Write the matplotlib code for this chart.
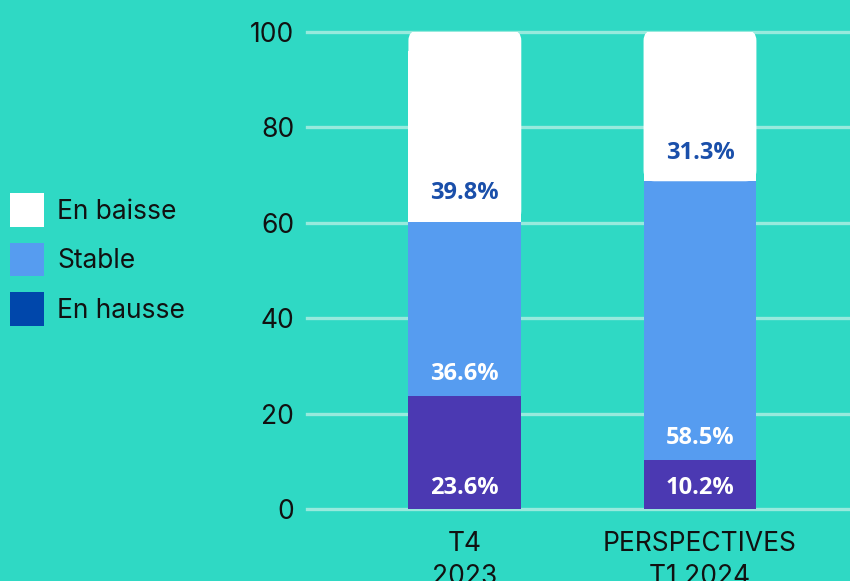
import matplotlib
matplotlib.use("Agg")
import matplotlib.pyplot as plt
from matplotlib.patches import Patch, FancyBboxPatch

# Data
categories = ["T4\n2023", "PERSPECTIVES\nT1 2024"]
en_hausse = [23.6, 10.2]
stable = [36.6, 58.5]
en_baisse = [39.8, 31.3]
yticks = [0, 20, 40, 60, 80, 100]

# Colours
bg = "#2FD9C4"
grid_col = "#97EADD"
c_hausse = "#4B39B2"
c_stable = "#569CF0"
c_baisse = "#FFFFFF"
c_legend_hausse = "#0047AB"
c_dark_label = "#1A4FAA"

plt.rcParams["font.family"] = ["Inter", "DejaVu Sans"]

fig = plt.figure(figsize=(8.5, 5.81), dpi=100, facecolor=bg)
ax = fig.add_axes([0.361, 0.124, 0.639, 0.821])
ax.set_facecolor(bg)

x = list(range(len(categories)))
width = 0.48

ax.bar(x, en_hausse, width, color=c_hausse, zorder=3)
bottom2 = [a for a in en_hausse]
ax.bar(x, stable, width, bottom=bottom2, color=c_stable, zorder=3)
bottom3 = [a + b for a, b in zip(en_hausse, stable)]

# top segment with rounded top corners
aspect = (100 / 477) / (1 / 235)
for xi, b, h in zip(x, bottom3, en_baisse):
    box = FancyBboxPatch((xi - width / 2, b), width, h + 0.4,
                         boxstyle="round,pad=0,rounding_size=0.045",
                         mutation_aspect=aspect,
                         facecolor=c_baisse, edgecolor="none", zorder=3)
    ax.add_patch(box)
    ax.bar(xi, h - 4, width, bottom=b, color=c_baisse, zorder=3)

# value labels
lab_kw = dict(ha="center", va="center", fontsize=17, fontweight="bold",
              family=["Open Sans", "DejaVu Sans"], zorder=5)
for xi, v in zip(x, en_hausse):
    ax.text(xi, 4.4, f"{v}%", color="white", **lab_kw)
for xi, b, v in zip(x, bottom2, stable):
    ax.text(xi, b + 4.7, f"{v}%", color="white", **lab_kw)
for xi, b, v in zip(x, bottom3, en_baisse):
    ax.text(xi, b + 6.0, f"{v}%", color=c_dark_label, **lab_kw)

ax.set_xlim(-0.672, 1.638)
ax.set_ylim(0, 100)
ax.set_yticks(yticks)
ax.set_xticks(x)
ax.set_xticklabels(categories, fontsize=19, linespacing=1.35)
ax.tick_params(axis="y", length=0, pad=9, labelsize=19)
ax.tick_params(axis="x", length=0, pad=16)
for t in ax.get_yticklabels() + ax.get_xticklabels():
    t.set_color("#111111")

for yv in yticks:
    ax.axhline(yv, color=grid_col, lw=2.4, zorder=1, clip_on=False)

for s in ax.spines.values():
    s.set_visible(False)

handles = [Patch(facecolor=c_baisse, label="En baisse"),
           Patch(facecolor=c_stable, label="Stable"),
           Patch(facecolor=c_legend_hausse, label="En hausse")]
fig.legend(handles=handles, loc="upper left",
           bbox_to_anchor=(10 / 850, 1 - 193 / 581), frameon=False,
           fontsize=19, handlelength=1.29, handleheight=1.59,
           labelspacing=0.6, handletextpad=0.5, borderpad=0,
           borderaxespad=0, labelcolor="#111111")

fig.savefig("out.png", dpi=100, facecolor=bg)
